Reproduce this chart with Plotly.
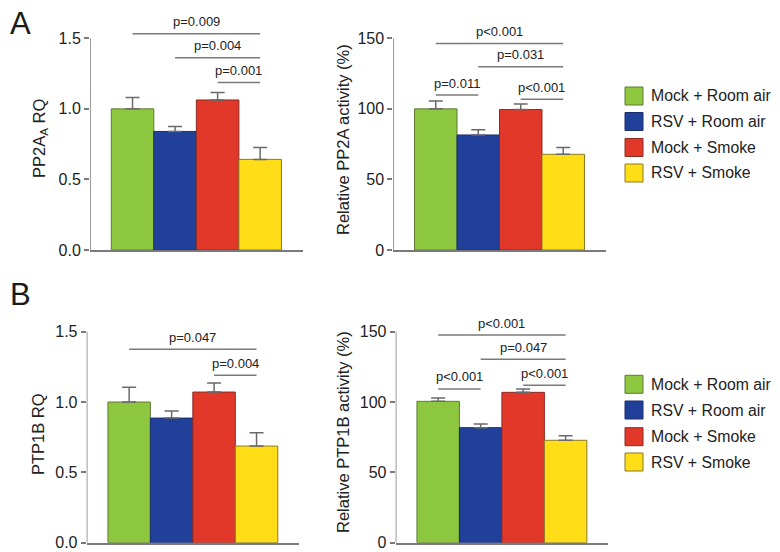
import plotly.graph_objects as go

# the page keeps an 8px body margin, so the figure sits 8px in from the corner
OFF = 8
W, H = 772, 544

groups = ["Mock + Room air", "RSV + Room air", "Mock + Smoke", "RSV + Smoke"]
colors = ["#8DC63F", "#21409A", "#E2382A", "#FFDD17"]
outlines = ["#5f7a35", "#1a2f6e", "#8a2a20", "#8a7a25"]

# panel A
pp2a_rq = [1.00, 0.84, 1.063, 0.642]
pp2a_rq_err = [0.08, 0.035, 0.053, 0.085]
pp2a_act = [100.0, 81.5, 99.5, 67.8]
pp2a_act_err = [5.5, 3.7, 4.0, 4.9]

# panel B
ptp1b_rq = [1.00, 0.886, 1.071, 0.687]
ptp1b_rq_err = [0.105, 0.05, 0.064, 0.095]
ptp1b_act = [100.5, 81.8, 106.9, 72.8]
ptp1b_act_err = [2.4, 2.6, 2.4, 3.3]

# significance brackets: (from bar, to bar, height, label)
sig_a_rq = [(0, 3, 1.533, "p=0.009"), (1, 3, 1.363, "p=0.004"), (2, 3, 1.186, "p=0.001")]
sig_a_act = [(0, 3, 146.4, "p<0.001"), (1, 3, 129.8, "p=0.031"),
             (0, 1, 109.8, "p=0.011"), (2, 3, 106.9, "p<0.001")]
sig_b_rq = [(0, 3, 1.375, "p=0.047"), (2, 3, 1.19, "p=0.004")]
sig_b_act = [(0, 3, 147.6, "p<0.001"), (1, 3, 130.4, "p=0.047"),
             (0, 1, 109.3, "p<0.001"), (2, 3, 112.0, "p<0.001")]

ticks_rq = [0, 0.5, 1.0, 1.5]
ticklabels_rq = ["0.0", "0.5", "1.0", "1.5"]
ticks_act = [0, 50, 100, 150]

FONT = "Liberation Sans, Arial, sans-serif"
GREY = "#7a7a7a"


def px(x):
    return (x - OFF) / W


def py(y):
    return 1 - (y - OFF) / H


fig = go.Figure()

panels = [
    dict(px0=90, px1=302.7, py0=250, pytop=38.3, vtop=1.5, vmax=1.65,
         vals=pp2a_rq, err=pp2a_rq_err, sig=sig_a_rq, tv=ticks_rq, tt=ticklabels_rq,
         title="PP2A<sub>A</sub> RQ", tx=40, ty=139),
    dict(px0=393.3, px1=605.7, py0=250, pytop=38.3, vtop=150, vmax=165,
         vals=pp2a_act, err=pp2a_act_err, sig=sig_a_act, tv=ticks_act, tt=[str(t) for t in ticks_act],
         title="Relative PP2A activity (%)", tx=343, ty=140),
    dict(px0=86.7, px1=299, py0=542.7, pytop=331.7, vtop=1.5, vmax=1.65,
         vals=ptp1b_rq, err=ptp1b_rq_err, sig=sig_b_rq, tv=ticks_rq, tt=ticklabels_rq,
         title="PTP1B RQ", tx=38, ty=434),
    dict(px0=395.7, px1=608.1, py0=542.7, pytop=331.7, vtop=150, vmax=165,
         vals=ptp1b_act, err=ptp1b_act_err, sig=sig_b_act, tv=ticks_act, tt=[str(t) for t in ticks_act],
         title="Relative PTP1B activity (%)", tx=343, ty=432),
]

xpos = [0, 1, 2, 3]
annotations = []
shapes = []
layout_axes = {}

for i, p in enumerate(panels, start=1):
    xa = "x" if i == 1 else f"x{i}"
    ya = "y" if i == 1 else f"y{i}"
    scale = (p["py0"] - p["pytop"]) / p["vtop"]
    pymax = p["py0"] - p["vmax"] * scale
    layout_axes["xaxis" if i == 1 else f"xaxis{i}"] = dict(
        domain=[px(p["px0"]), px(p["px1"])], range=[-1, 4], anchor=ya,
        showline=True, linecolor=GREY, linewidth=1.5, showticklabels=False,
        ticks="", showgrid=False, zeroline=False, fixedrange=True, automargin=False,
    )
    layout_axes["yaxis" if i == 1 else f"yaxis{i}"] = dict(
        domain=[py(p["py0"]), py(pymax)], range=[0, p["vmax"]], anchor=xa,
        showline=False, showgrid=False, zeroline=False, automargin=False,
        tickvals=p["tv"], ticktext=p["tt"], ticks="outside", ticklen=5,
        tickcolor=GREY, tickwidth=1.5, tickfont=dict(size=16, color="#222", family=FONT),
        fixedrange=True,
    )
    fig.add_trace(go.Bar(
        x=xpos, y=p["vals"], width=1, xaxis=xa, yaxis=ya,
        marker=dict(color=colors, line=dict(color=outlines, width=1)),
        error_y=dict(type="data", array=p["err"], arrayminus=[0] * 4, symmetric=False,
                     color="#6a6a6a", thickness=1.5, width=7),
        showlegend=False, hoverinfo="y",
    ))
    # y axis line only up to the top tick
    shapes.append(dict(type="line", xref=xa, yref=ya, x0=-1, x1=-1, y0=0, y1=p["vtop"],
                       line=dict(color=GREY, width=1.5)))
    for a, b, h, lab in p["sig"]:
        shapes.append(dict(type="line", xref=xa, yref=ya, x0=a, x1=b, y0=h, y1=h,
                           line=dict(color=GREY, width=1.5)))
        annotations.append(dict(xref=xa, yref=ya, x=(a + b) / 2, y=h, text=lab, showarrow=False,
                                yanchor="middle", yshift=12,
                                font=dict(size=13, color="#222", family=FONT)))
    annotations.append(dict(xref="paper", yref="paper", x=px(p["tx"]), y=py(p["ty"]),
                            text=p["title"], textangle=-90, showarrow=False,
                            xanchor="center", yanchor="middle",
                            font=dict(size=16.5, color="#222", family=FONT)))

# legends, one per row of panels
for rows in ([96, 121.5, 147.5, 173], [384.3, 410, 436.7, 462]):
    for name, c, oc, cy in zip(groups, colors, outlines, rows):
        shapes.append(dict(type="rect", xref="paper", yref="paper",
                           x0=px(625), x1=px(643), y0=py(cy + 9), y1=py(cy - 9),
                           fillcolor=c, line=dict(color=oc, width=1)))
        annotations.append(dict(xref="paper", yref="paper", x=px(649), y=py(cy),
                                text=name, showarrow=False, xanchor="left", yanchor="middle",
                                font=dict(size=15.8, color="#222", family=FONT)))

# panel letters
for letter, cx, cy in (("A", 20, 23.5), ("B", 20, 294)):
    annotations.append(dict(xref="paper", yref="paper", x=px(cx), y=py(cy), text=letter,
                            showarrow=False, xanchor="center", yanchor="middle",
                            font=dict(size=31, color="#1a1a1a", family=FONT)))

fig.update_layout(
    width=W, height=H, margin=dict(l=0, r=0, t=0, b=0),
    paper_bgcolor="white", plot_bgcolor="white",
    shapes=shapes, annotations=annotations, showlegend=False,
    **layout_axes,
)

fig.write_html("out.html")
